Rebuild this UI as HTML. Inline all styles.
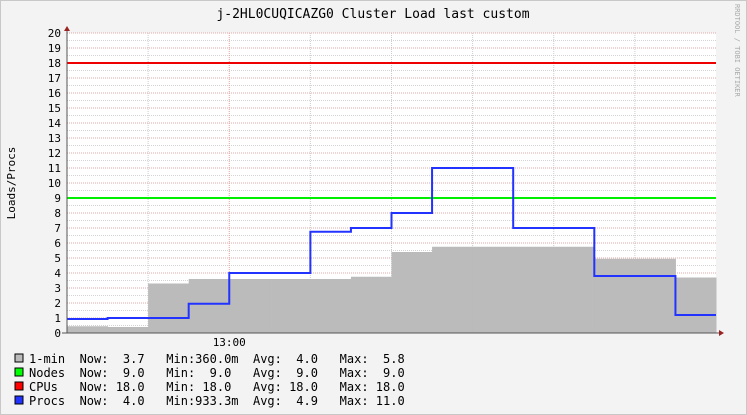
<!DOCTYPE html>
<html><head><meta charset="utf-8"><style>
body{margin:0;width:747px;height:415px;overflow:hidden;background:#f3f3f3;}
svg{display:block}
text{font-family:"DejaVu Sans Mono","Liberation Mono",monospace;fill:#000}
</style></head><body>
<svg id="c" width="747" height="415">
<rect x="0.5" y="0.5" width="746" height="414" fill="#f3f3f3" stroke="#c8c8c8"/>
<rect x="67" y="33" width="649" height="300" fill="#fff"/>
<g id="grid"></g>
<g id="marks"></g>
<text x="373" y="18" font-size="13" text-anchor="middle">j-2HL0CUQICAZG0 Cluster Load last custom</text>
<text x="15" y="183" font-size="11" text-anchor="middle" transform="rotate(-90 15 183)">Loads/Procs</text>
<text x="735" y="4" font-size="7" style="fill:#aaa" transform="rotate(90 735 4)">RRDTOOL / TOBI OETIKER</text>
<g id="legend"></g>
</svg>
<script>
const yTicks=[0,1,2,3,4,5,6,7,8,9,10,11,12,13,14,15,16,17,18,19,20];
const xTickLabels=["13:00"];
const xTickSlots=[4];
const load1=[0.45,0.4,3.3,3.6,3.6,3.6,3.6,3.75,5.4,5.75,5.75,5.75,5.75,4.95,4.95,3.7];
const procs=[0.93,1.0,1.0,1.95,4,4,6.75,7,8,11,11,7,7,3.8,3.8,1.2];
const nodes=9, cpus=18;
const legendNames=["1-min","Nodes","CPUs","Procs"];
const legendColors=["#bbbbbb","#00ff00","#ff0000","#2233ff"];
const legendStats=[["3.7","360.0m","4.0","5.8"],["9.0","9.0","9.0","9.0"],["18.0","18.0","18.0","18.0"],["4.0","933.3m","4.9","11.0"]];
const X0=67,X1=716,Y0=333,PX=15;
const N=load1.length;
const sx=i=>X0+(X1-X0)*i/N;
const sy=v=>Y0-v*PX;
const NS="http://www.w3.org/2000/svg";
function mk(t,a,p){const e=document.createElementNS(NS,t);for(const k in a)e.setAttribute(k,a[k]);p.appendChild(e);return e;}
const grid=document.getElementById('grid'),marks=document.getElementById('marks'),leg=document.getElementById('legend');
for(let v=0.5;v<=20;v+=1){const l=mk('line',{x1:X0,x2:X1,y1:sy(v),y2:sy(v),stroke:'#d4d4d4','stroke-dasharray':'1,1'},grid);

}
for(let k=2;k<N;k+=2){const l=mk('line',{x1:sx(k),x2:sx(k),y1:33,y2:Y0,stroke:k==4?'#e0a0a0':'#ccc','stroke-dasharray':'1,1'},grid);

}
yTicks.forEach(v=>{if(v>0){const l=mk('line',{x1:X0,x2:X1,y1:sy(v),y2:sy(v),stroke:'#e0a8a8','stroke-dasharray':'1,1'},grid);

}
const t=mk('text',{x:61,y:sy(v)+4,'font-size':11,'text-anchor':'end'},grid);t.textContent=v;

});
xTickLabels.forEach((s,i)=>{const t=mk('text',{x:sx(xTickSlots[i]),y:346,'font-size':11,'text-anchor':'middle'},grid);t.textContent=s;

});
load1.forEach((v,i)=>{const r=mk('rect',{x:sx(i),y:sy(v),width:sx(i+1)-sx(i)+0.5,height:v*PX,fill:'#bbbbbb'},marks);

});
let l=mk('line',{x1:X0,x2:X1,y1:sy(nodes),y2:sy(nodes),stroke:'#00ee00','stroke-width':2},marks);


l=mk('line',{x1:X0,x2:X1,y1:sy(cpus),y2:sy(cpus),stroke:'#ee0000','stroke-width':2},marks);


let d='';procs.forEach((v,i)=>{d+=(i?'L':'M')+sx(i)+','+sy(v)+'L'+sx(i+1)+','+sy(v);});
const p=mk('path',{d:d,fill:'none',stroke:'#2233ff','stroke-width':2},marks);


l=mk('line',{x1:X0,x2:X0,y1:28,y2:Y0,stroke:'#555'},marks);


l=mk('line',{x1:62,x2:X1+4,y1:Y0,y2:Y0,stroke:'#555'},marks);


let a=mk('polygon',{points:'64,31 70,31 67,26',fill:'#992222'},marks);


a=mk('polygon',{points:'719,330 719,336 724,333',fill:'#992222'},marks);


const pad=(v,w)=>(' '.repeat(w)+v).slice(-w);
const fld=(lab,v)=>lab+(v.length>5?v+'  ':pad(v,5)+'   ');
legendNames.forEach((n,i)=>{const y=363+i*14;
const r=mk('rect',{x:15,y:y-9,width:8,height:8,fill:legendColors[i],stroke:'#000'},leg);


const s=legendStats[i];
const t=mk('text',{x:29,y:y,'font-size':12},leg);
t.style.whiteSpace='pre';
t.textContent=(n+'       ').slice(0,7)+fld('Now:',s[0])+fld('Min:',s[1])+fld('Avg:',s[2])+'Max:'+pad(s[3],5);

});
</script>
</body></html>
